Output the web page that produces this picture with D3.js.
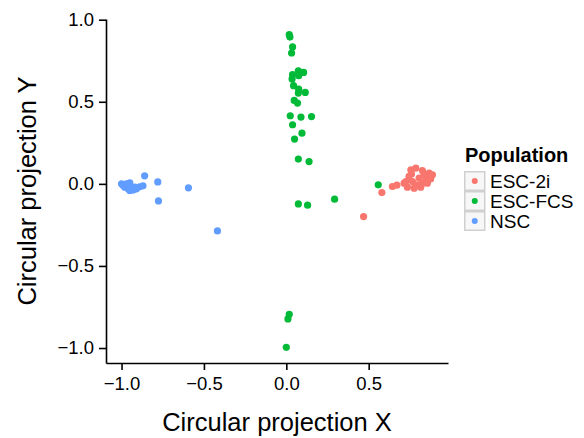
<!DOCTYPE html>
<html><head><meta charset="utf-8">
<script src="https://cdn.jsdelivr.net/npm/d3@7"></script>
<style>body{margin:0;background:#fff}text{font-family:"Liberation Sans",Arial,sans-serif}</style>
</head><body><svg id="c" width="584" height="438"></svg>
<script>
const categories = ["ESC-2i", "ESC-FCS", "NSC"];
const colors = ["#F8766D", "#00BA38", "#619CFF"];
const xTicks = [-1.0, -0.5, 0.0, 0.5];
const yTicks = [-1.0, -0.5, 0.0, 0.5, 1.0];

const esc2iX = [0.580, 0.469, 0.644, 0.671, 0.715, 0.756, 0.786, 0.826, 0.867, 0.887, 0.745, 0.806, 0.847, 0.766, 0.826, 0.735, 0.776, 0.816, 0.796, 0.856, 0.725, 0.836, 0.876, 0.760];
const esc2iY = [-0.053, -0.199, -0.016, -0.008, 0.004, 0.085, 0.096, 0.081, 0.065, 0.055, 0.045, 0.035, 0.035, 0.014, 0.004, -0.020, -0.026, -0.020, -0.006, 0.004, 0.014, 0.060, 0.030, 0.060];

const escFcsX = [0.018, 0.022, 0.038, 0.032, 0.073, 0.105, 0.038, 0.035, 0.075, 0.044, 0.075, 0.073, 0.115, 0.048, 0.068, 0.024, 0.089, 0.153, 0.038, 0.095, 0.050, 0.073, 0.138, 0.073, 0.129, 0.293, 0.558, 0.018, 0.010, 0.000];
const escFcsY = [0.909, 0.894, 0.834, 0.797, 0.689, 0.679, 0.665, 0.638, 0.659, 0.598, 0.577, 0.553, 0.557, 0.508, 0.492, 0.415, 0.407, 0.410, 0.360, 0.309, 0.273, 0.151, 0.136, -0.122, -0.130, -0.093, -0.006, -0.795, -0.823, -0.996];

const nscX = [-1.000, -0.980, -0.950, -0.960, -0.930, -0.910, -0.890, -0.870, -0.860, -0.780, -0.776, -0.594, -0.418, -0.990, -0.970, -0.940, -0.920, -0.950];
const nscY = [0.000, -0.020, 0.006, -0.030, -0.037, -0.030, -0.018, -0.012, 0.049, 0.012, -0.104, -0.024, -0.287, -0.010, 0.000, -0.030, -0.020, -0.040];

const seriesX = [esc2iX, escFcsX, nscX];
const seriesY = [esc2iY, escFcsY, nscY];

const points = [];
categories.forEach((c, i) => seriesX[i].forEach((x, j) => points.push({cat: c, i, x, y: seriesY[i][j]})));

const svg = d3.select("#c");
const L = 106, R = 448, T = 19, B = 363;
function expand(ext) { const d = (ext[1] - ext[0]) * 0.05; return [ext[0] - d, ext[1] + d]; }
const xs = d3.scaleLinear().domain(expand(d3.extent(points, d => d.x))).range([L, R]);
const ys = d3.scaleLinear().domain(expand(d3.extent(points, d => d.y))).range([B, T]);

const fmt = d => d3.format(".1f")(d).replace("-", "\u2212");
const xAxis = svg.append("g").attr("transform", `translate(0,${B})`)
  .call(d3.axisBottom(xs).tickValues(xTicks).tickFormat(fmt).tickSize(7).tickSizeOuter(0).tickPadding(7));
const yAxis = svg.append("g").attr("transform", `translate(${L},0)`)
  .call(d3.axisLeft(ys).tickValues(yTicks).tickFormat(fmt).tickSize(7).tickSizeOuter(0).tickPadding(5));
[xAxis, yAxis].forEach(a => {
  a.attr("font-size", null).attr("font-family", null);
  a.select(".domain").attr("stroke", "#000").attr("stroke-width", 1.6);
  a.selectAll(".tick line").attr("stroke", "#000").attr("stroke-width", 1.6);
  a.selectAll(".tick text").attr("fill", "#000").style("font-size", "18.5px");
});

svg.append("g").selectAll("circle").data(points).join("circle")
  .attr("cx", d => xs(d.x)).attr("cy", d => ys(d.y)).attr("r", 3.6)
  .attr("fill", d => colors[d.i]);

svg.append("text").attr("x", (L + R) / 2).attr("y", 431).attr("text-anchor", "middle")
  .style("font-size", "25.5px").text("Circular projection X");
svg.append("text").attr("transform", `translate(36,${(T + B) / 2}) rotate(-90)`).attr("text-anchor", "middle")
  .style("font-size", "25.5px").text("Circular projection Y");

const lg = svg.append("g").attr("transform", "translate(464,171)");
lg.append("text").attr("x", 1).attr("y", -9).style("font-size", "20px").style("font-weight", "bold").text("Population");
categories.forEach((c, i) => {
  const g = lg.append("g").attr("transform", `translate(0,${i * 20})`);
  g.append("rect").attr("x", 0.75).attr("y", 0.75).attr("width", 20).attr("height", 18.5)
    .attr("fill", "#f7f7f7").attr("stroke", "#d0d0d0").attr("stroke-width", 1.5);
  g.append("circle").attr("cx", 10.75).attr("cy", 10).attr("r", 3).attr("fill", colors[i]);
  g.append("text").attr("x", 26).attr("y", 10).attr("dy", "0.36em").style("font-size", "19px").text(c);
});
</script></body></html>
